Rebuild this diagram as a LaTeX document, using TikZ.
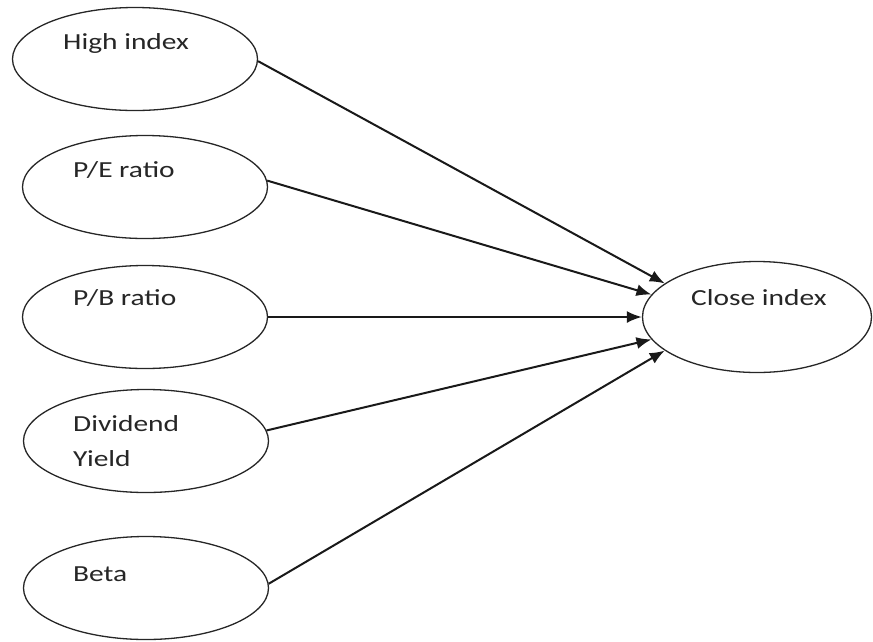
\documentclass[tikz,border=0pt]{standalone}
\usepackage{fontspec}
\setmainfont[FakeStretch=1.28]{Carlito}
\usepackage{tikz}
\usetikzlibrary{shapes.geometric, arrows.meta}
\tikzset{
    factor/.style={
        ellipse, draw=black!85, fill=white,
        minimum width=245pt, minimum height=103pt,
        line width=1.3pt
    },
    factortext/.style={
        anchor=west, inner sep=0pt, align=left,
        font=\fontsize{23}{35}\selectfont, text=black!85
    },
    link/.style={
        line width=2pt, draw=black!90,
        -{Latex[length=15pt, width=12pt]}
    }
}

\begin{document}
\begin{tikzpicture}[x=1pt, y=-1pt]
    \useasboundingbox (0,0) rectangle (873,641);

    \node[factor] (high) at (135,59) {};
    \node[factor] (pe) at (145,187) {};
    \node[factor] (pb) at (145,317) {};
    \node[factor] (div) at (146,441) {};
    \node[factor] (beta) at (146,588) {};
    \node[factor, minimum width=229pt, minimum height=111pt] (close) at (757,317) {};

    \node[factortext] at ([shift={(-72,-16)}]high.center) {High index};
    \node[factortext] at ([shift={(-72,-17)}]pe.center) {P/E ratio};
    \node[factortext] at ([shift={(-72,-19)}]pb.center) {P/B ratio};
    \node[factortext] at ([shift={(-73,0)}]div.center) {Dividend\\Yield};
    \node[factortext] at ([shift={(-73,-14)}]beta.center) {Beta};
    \node[factortext] at ([shift={(-66,-19)}]close.center) {Close index};

    \draw[link] (high.-1) -- (close.160);
    \draw[link] (pe.3) -- (close.168);
    \draw[link] (pb.east) -- (close.west);
    \draw[link] (div.5) -- (close.192);
    \draw[link] (beta.2) -- (close.200);
\end{tikzpicture}
\end{document}
